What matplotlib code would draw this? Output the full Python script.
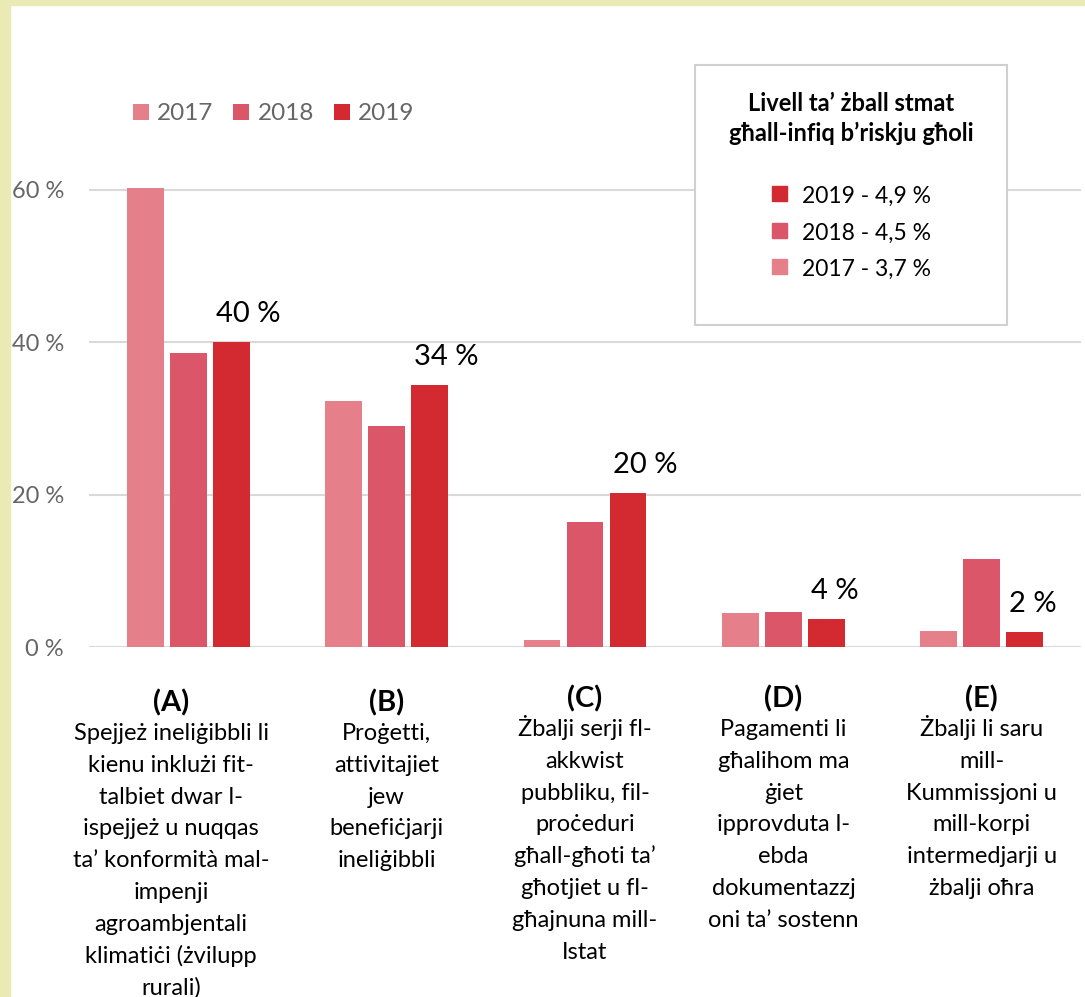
import matplotlib
matplotlib.use("Agg")
import numpy as np
import matplotlib.pyplot as plt
from matplotlib.patches import Rectangle

plt.rcParams['font.family'] = ['Lato', 'DejaVu Sans']

# data
years = ['2017', '2018', '2019']
colors = ['#e5808b', '#da5668', '#d22a30']
categories = ['(A)', '(B)', '(C)', '(D)', '(E)']
values_2017 = [60.3, 32.3, 0.9, 4.4, 2.1]
values_2018 = [38.6, 29.0, 16.4, 4.6, 11.6]
values_2019 = [40.0, 34.4, 20.2, 3.7, 2.0]
labels_2019 = ['40 %', '34 %', '20 %', '4 %', '2 %']
tick_values = [0, 20, 40, 60]
tick_labels = ['0 %', '20 %', '40 %', '60 %']

box_title = ['Livell ta’ żball stmat', 'għall-infiq b’riskju għoli']
overall_years = ['2019', '2018', '2017']
overall_rates = ['4,9 %', '4,5 %', '3,7 %']

descriptions = [
    ['Spejjeż ineliġibbli li', 'kienu inklużi fit-', 'talbiet dwar l-', 'ispejjeż u nuqqas',
     'ta’ konformità mal-', 'impenji', 'agroambjentali', 'klimatiċi (żvilupp', 'rurali)'],
    ['Proġetti,', 'attivitajiet', 'jew', 'benefiċjarji', 'ineliġibbli'],
    ['Żbalji serji fl-', 'akkwist', 'pubbliku, fil-', 'proċeduri', 'għall-għoti ta’',
     'għotjiet u fl-', 'għajnuna mill-', 'Istat'],
    ['Pagamenti li', 'għalihom ma', 'ġiet', 'ipprovduta l-', 'ebda', 'dokumentazzj',
     'oni ta’ sostenn'],
    ['Żbalji li saru', 'mill-', 'Kummissjoni u', 'mill-korpi', 'intermedjarji u',
     'żbalji oħra'],
]

W, H = 1085, 997
PT = 0.72  # points per pixel at dpi 100


def fx(x):
    return x / W


def fy(y):
    return 1 - y / H


fig = plt.figure(figsize=(W / 100, H / 100), dpi=100)

# light yellow frame on the left and top
fig.add_artist(Rectangle((0, 0), fx(10), 1, transform=fig.transFigure,
                         color='#eaeab4', zorder=0))
fig.add_artist(Rectangle((0, fy(5)), 1, 5 / H, transform=fig.transFigure,
                         color='#eaeab4', zorder=0))

ax = fig.add_axes([fx(89), fy(647), fx(1081) - fx(89), (647 - 113.8) / H])

x = np.arange(len(categories))
step = 0.2165
width = 0.186
series = [values_2017, values_2018, values_2019]
for k, (yr, vals, col) in enumerate(zip(years, series, colors)):
    ax.bar(x + (k - 1) * step, vals, width, color=col, label=yr, zorder=2)

# value labels above the 2019 bars, left aligned with the bar
for i, (v, lab) in enumerate(zip(values_2019, labels_2019)):
    ax.annotate(lab, xy=(x[i] + step - width / 2, v), xytext=(3 * PT, 20 * PT),
                textcoords='offset points', ha='left', va='baseline',
                fontsize=21, color='black')

ax.set_xlim(-0.5, len(categories) - 0.5)
ax.set_ylim(0, 70)
ax.set_yticks(tick_values)
ax.set_yticklabels(tick_labels)
ax.yaxis.grid(True, color='#d9d9d9', lw=1.5)
ax.set_axisbelow(True)
ax.tick_params(axis='y', length=0, pad=18, labelsize=17, labelcolor='#666666')
ax.tick_params(axis='x', bottom=False, labelbottom=False)
for s in ax.spines.values():
    s.set_visible(False)

# category names and descriptions under the axis
# (first label is pushed left, first two sit a little lower, as in the original)
for i, (cat, lines) in enumerate(zip(categories, descriptions)):
    dx = -17 if i == 0 else 0
    dy = 4 if i < 2 else 0
    ax.annotate(cat, xy=(x[i], 0), xytext=(dx * PT, -(60 + dy) * PT),
                textcoords='offset points', ha='center', va='baseline',
                fontsize=21, weight='bold', color='black', annotation_clip=False)
    for j, line in enumerate(lines):
        ax.annotate(line, xy=(x[i], 0), xytext=(dx * PT, -(89 + dy + 31.8 * j) * PT),
                    textcoords='offset points', ha='center', va='baseline',
                    fontsize=17, color='black', annotation_clip=False)

# series legend at the top
ax.legend(loc='center left', bbox_to_anchor=(fx(133), fy(114)),
          bbox_transform=fig.transFigure, ncol=3, frameon=False, fontsize=17.5,
          labelcolor='#666666', handlelength=0.66, handleheight=0.66,
          handletextpad=0.33, columnspacing=0.82, borderpad=0, borderaxespad=0)

# box with the estimated error rates
fig.add_artist(Rectangle((fx(695), fy(325)), (1007 - 695) / W, (325 - 65) / H,
                         transform=fig.transFigure, facecolor='white',
                         edgecolor='#d0d0d0', lw=1.5, zorder=3))
for j, t in enumerate(box_title):
    fig.text(fx(851), fy(111 + 30 * j), t, ha='center', va='baseline',
             fontsize=17, weight='bold', color='black', zorder=4)
for j, (yr, rate) in enumerate(zip(overall_years, overall_rates)):
    yc = 194 + 36.5 * j
    fig.add_artist(Rectangle((fx(772), fy(yc + 7.5)), 15 / W, 15 / H,
                             transform=fig.transFigure,
                             color=colors[years.index(yr)], zorder=4))
    fig.text(fx(802), fy(yc + 9), f'{yr} - {rate}', ha='left', va='baseline',
             fontsize=16.5, color='black', zorder=4)

fig.savefig('out.png', dpi=100, facecolor='white')
